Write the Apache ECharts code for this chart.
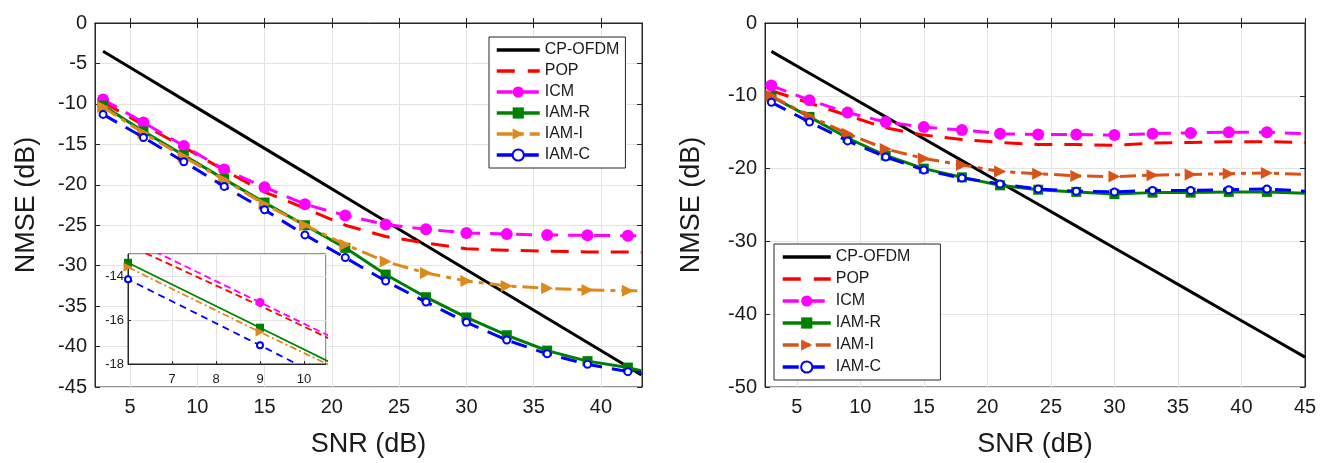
<!DOCTYPE html>
<html>
<head>
<meta charset="utf-8">
<script src="https://cdn.jsdelivr.net/npm/echarts@6/dist/echarts.min.js"></script>
<style>html,body{margin:0;padding:0;background:#fff}#c{width:1330px;height:463px}</style>
</head>
<body>
<div id="c"></div>
<script>
// ---------- DATA ----------
const snrL   = [3, 6, 9, 12, 15, 18, 21, 24, 27, 30, 33, 36, 39, 42, 43];
const cpL    = [-3.5, -6.5, -9.5, -12.5, -15.5, -18.5, -21.5, -24.5, -27.5, -30.5, -33.5, -36.5, -39.5, -42.5, -43.5];
const popL   = [-9.8, -12.6, -15.35, -18.2, -20.9, -22.9, -25.0, -26.4, -27.2, -27.9, -28.1, -28.2, -28.3, -28.3, -28.35];
const icmL   = [-9.45, -12.3, -15.2, -18.1, -20.3, -22.4, -23.8, -24.9, -25.5, -25.95, -26.1, -26.2, -26.25, -26.3, -26.3];
const iamRL  = [-10.2, -13.4, -16.35, -19.3, -22.2, -25.0, -27.8, -31.1, -33.9, -36.4, -38.6, -40.5, -41.8, -42.6, -43.0];
const iamIL  = [-10.4, -13.6, -16.55, -19.4, -22.4, -25.0, -27.4, -29.5, -30.9, -31.9, -32.5, -32.8, -33.0, -33.1, -33.1];
const iamCL  = [-11.3, -14.15, -17.15, -20.2, -23.1, -26.2, -29.0, -31.9, -34.5, -37.0, -39.2, -40.9, -42.2, -43.1, -43.2];

const snrR   = [3, 6, 9, 12, 15, 18, 21, 24, 27, 30, 33, 36, 39, 42, 45];
const cpR    = [-3.9, -6.9, -9.9, -12.9, -15.9, -18.9, -21.9, -24.9, -27.9, -30.9, -33.9, -36.9, -39.9, -42.9, -45.9];
const popR   = [-9.3, -11.0, -12.7, -14.4, -15.4, -16.0, -16.4, -16.7, -16.7, -16.8, -16.5, -16.4, -16.3, -16.3, -16.4];
const icmR   = [-8.6, -10.6, -12.3, -13.6, -14.3, -14.7, -15.2, -15.3, -15.3, -15.4, -15.2, -15.1, -15.0, -15.0, -15.2];
const iamRR  = [-10.1, -12.9, -15.8, -18.2, -20.0, -21.2, -22.3, -22.9, -23.2, -23.5, -23.3, -23.3, -23.2, -23.2, -23.4];
const iamIR  = [-10.0, -12.8, -15.2, -17.3, -18.6, -19.5, -20.4, -20.7, -21.0, -21.1, -20.9, -20.8, -20.7, -20.6, -20.8];
const iamCR  = [-10.9, -13.6, -16.2, -18.4, -20.2, -21.3, -22.1, -22.8, -23.1, -23.2, -23.0, -23.0, -22.9, -22.8, -23.1];

const names  = ['CP-OFDM', 'POP', 'ICM', 'IAM-R', 'IAM-I', 'IAM-C'];
const xTicksL = [5, 10, 15, 20, 25, 30, 35, 40];
const xTicksR = [5, 10, 15, 20, 25, 30, 35, 40, 45];

// ---------- STYLE ----------
const FONT = 'Liberation Sans';
const INK = '#1a1a1a';
const GRIDC = '#e3e3e3';
const colorsL = ['#000000', '#ff0000', '#ff00ff', '#008000', '#dc8a1c', '#0000ff'];
const colorsR = ['#000000', '#ff0000', '#ff00ff', '#008000', '#d95319', '#0000ff'];
const dashes  = ['solid', [18, 12], [16, 10], 'solid', [16, 6, 5, 6], [16, 10]];
const dashesS = ['solid', [7, 4], [7, 4], 'solid', [7, 3, 2, 3], [7, 5]];
const legDash = ['solid', [18, 13], [16, 10], 'solid', [16, 6, 5, 6], [16, 10]];
const symbols = ['none', 'none', 'circle', 'rect', 'triangle', 'emptyCircle'];
const symSize = [0, 0, 12, 10, 12, 7];
const symSizeS = [0, 0, 9, 8, 9, 6];
const rot = [0, 0, 0, 0, -90, 0];

function mk(xs, ys) {
  return xs.map((x, i) => i === xs.length - 1 ? {value: [x, ys[i]], symbol: 'none'} : [x, ys[i]]);
}

const dataL = [cpL, popL, icmL, iamRL, iamIL, iamCL];
const dataR = [cpR, popR, icmR, iamRR, iamIR, iamCR];

const series = [];
function addSeries(prefix, xi, yi, xs, datasets, colors, dsh, sizes, width, z) {
  datasets.forEach((ys, k) => {
    series.push({
      type: 'line',
      name: prefix + names[k],
      xAxisIndex: xi, yAxisIndex: yi,
      data: mk(xs, ys),
      showAllSymbol: true,
      symbol: symbols[k],
      symbolSize: sizes[k],
      symbolRotate: rot[k],
      lineStyle: {color: colors[k], width: width, type: dsh[k]},
      itemStyle: {color: colors[k], borderWidth: k === 5 ? (width > 2 ? 3.5 : 2.2) : 0, borderColor: colors[k]},
      z: z + k * 0.01,
      animation: false,
      silent: true
    });
  });
}
addSeries('', 0, 0, snrL, dataL, colorsL, dashes, symSize, 3, 2);
addSeries('R|', 1, 1, snrR, dataR, colorsR, dashes, symSize, 3, 2);
addSeries('I|', 2, 2, snrL, dataL, colorsL, dashesS, symSizeS, 1.8, 12);

function legendItems(prefix, colors) {
  return names.map((n, k) => ({
    name: prefix + n,
    lineStyle: {type: legDash[k], width: 3.5, color: colors[k]},
    itemStyle: k < 2 ? {opacity: 0} : {color: colors[k]}
  }));
}

const tickLbl = {color: INK, fontSize: 20, fontFamily: FONT};
const nameTs = {color: INK, fontSize: 27, fontFamily: FONT};
const axLine = {show: true, lineStyle: {color: '#262626', width: 1}};

function mainX(gi, min, max, ticks) {
  return {
    type: 'value', gridIndex: gi, min: min, max: max, position: 'bottom',
    name: 'SNR (dB)', nameLocation: 'middle', nameGap: 44, nameTextStyle: nameTs,
    axisLine: axLine,
    axisTick: {show: true, inside: true, length: 5, customValues: ticks, lineStyle: {color: '#262626'}},
    axisLabel: Object.assign({customValues: ticks, margin: 10}, tickLbl),
    splitLine: {show: true, lineStyle: {color: GRIDC, width: 1}}
  };
}
function mirrorX(gi, min, max, ticks) {
  return {
    type: 'value', gridIndex: gi, min: min, max: max, position: 'top',
    axisLine: axLine,
    axisTick: {show: true, inside: true, length: 5, customValues: ticks, lineStyle: {color: '#262626'}},
    axisLabel: {show: false}, splitLine: {show: false}
  };
}
function mainY(gi, min, max, itv, gap) {
  return {
    type: 'value', gridIndex: gi, min: min, max: max, interval: itv, position: 'left',
    name: 'NMSE (dB)', nameLocation: 'middle', nameGap: gap, nameTextStyle: nameTs,
    axisLine: axLine,
    axisTick: {show: true, inside: true, length: 5, lineStyle: {color: '#262626'}},
    axisLabel: Object.assign({margin: 8}, tickLbl),
    splitLine: {show: true, lineStyle: {color: GRIDC, width: 1}}
  };
}
function mirrorY(gi, min, max, itv) {
  return {
    type: 'value', gridIndex: gi, min: min, max: max, interval: itv, position: 'right',
    axisLine: axLine,
    axisTick: {show: true, inside: true, length: 5, lineStyle: {color: '#262626'}},
    axisLabel: {show: false}, splitLine: {show: false}
  };
}

const insetLbl = {color: INK, fontSize: 13, fontFamily: FONT};

const option = {
  backgroundColor: '#ffffff',
  animation: false,
  grid: [
    {left: 95, top: 23, width: 547, height: 365, show: true, borderColor: '#262626', borderWidth: 1, backgroundColor: 'transparent'},
    {left: 765, top: 23, width: 540, height: 365, show: true, borderColor: '#262626', borderWidth: 1, backgroundColor: 'transparent'},
    {left: 128, top: 254, width: 198, height: 110, show: true, borderColor: '#262626', borderWidth: 1, backgroundColor: '#ffffff', z: 10}
  ],
  xAxis: [
    mainX(0, 2.4, 43.05, xTicksL),
    mainX(1, 2.5, 45, xTicksR),
    {
      type: 'value', gridIndex: 2, min: 6, max: 10.5, interval: 1, z: 11,
      axisLine: axLine,
      axisTick: {show: true, inside: true, length: 3, lineStyle: {color: '#262626'}},
      axisLabel: Object.assign({margin: 9, showMinLabel: false, showMaxLabel: false}, insetLbl),
      splitLine: {show: true, lineStyle: {color: GRIDC}}
    },
    mirrorX(0, 2.4, 43.05, xTicksL),
    mirrorX(1, 2.5, 45, xTicksR)
  ],
  yAxis: [
    mainY(0, -45, 0, 5, 55),
    mainY(1, -50, 0, 10, 60),
    {
      type: 'value', gridIndex: 2, min: -18, max: -13, interval: 2, z: 11,
      axisLine: axLine,
      axisTick: {show: true, inside: true, length: 3, lineStyle: {color: '#262626'}},
      axisLabel: Object.assign({margin: 4, showMaxLabel: false}, insetLbl),
      splitLine: {show: true, lineStyle: {color: GRIDC}}
    },
    mirrorY(0, -45, 0, 5),
    mirrorY(1, -50, 0, 10)
  ],
  legend: [
    {
      data: legendItems('', colorsL), orient: 'vertical', left: 489, top: 37,
      itemWidth: 43, itemHeight: 14, itemGap: 5, padding: [5, 6, 5, 6],
      borderColor: '#262626', borderWidth: 1, backgroundColor: '#ffffff',
      textStyle: {color: INK, fontSize: 16, fontFamily: FONT}, selectedMode: false, z: 20
    },
    {
      data: legendItems('R|', colorsR), orient: 'vertical', left: 774, top: 244,
      itemWidth: 48, itemHeight: 14, itemGap: 6, padding: [5, 30, 5, 7],
      borderColor: '#262626', borderWidth: 1, backgroundColor: '#ffffff',
      formatter: n => n.split('|').pop(),
      textStyle: {color: INK, fontSize: 16, fontFamily: FONT}, selectedMode: false, z: 20
    }
  ],
  series: series
};

const chart = echarts.init(document.getElementById('c'), null, {renderer: 'canvas'});
chart.setOption(option);
</script>
</body>
</html>
